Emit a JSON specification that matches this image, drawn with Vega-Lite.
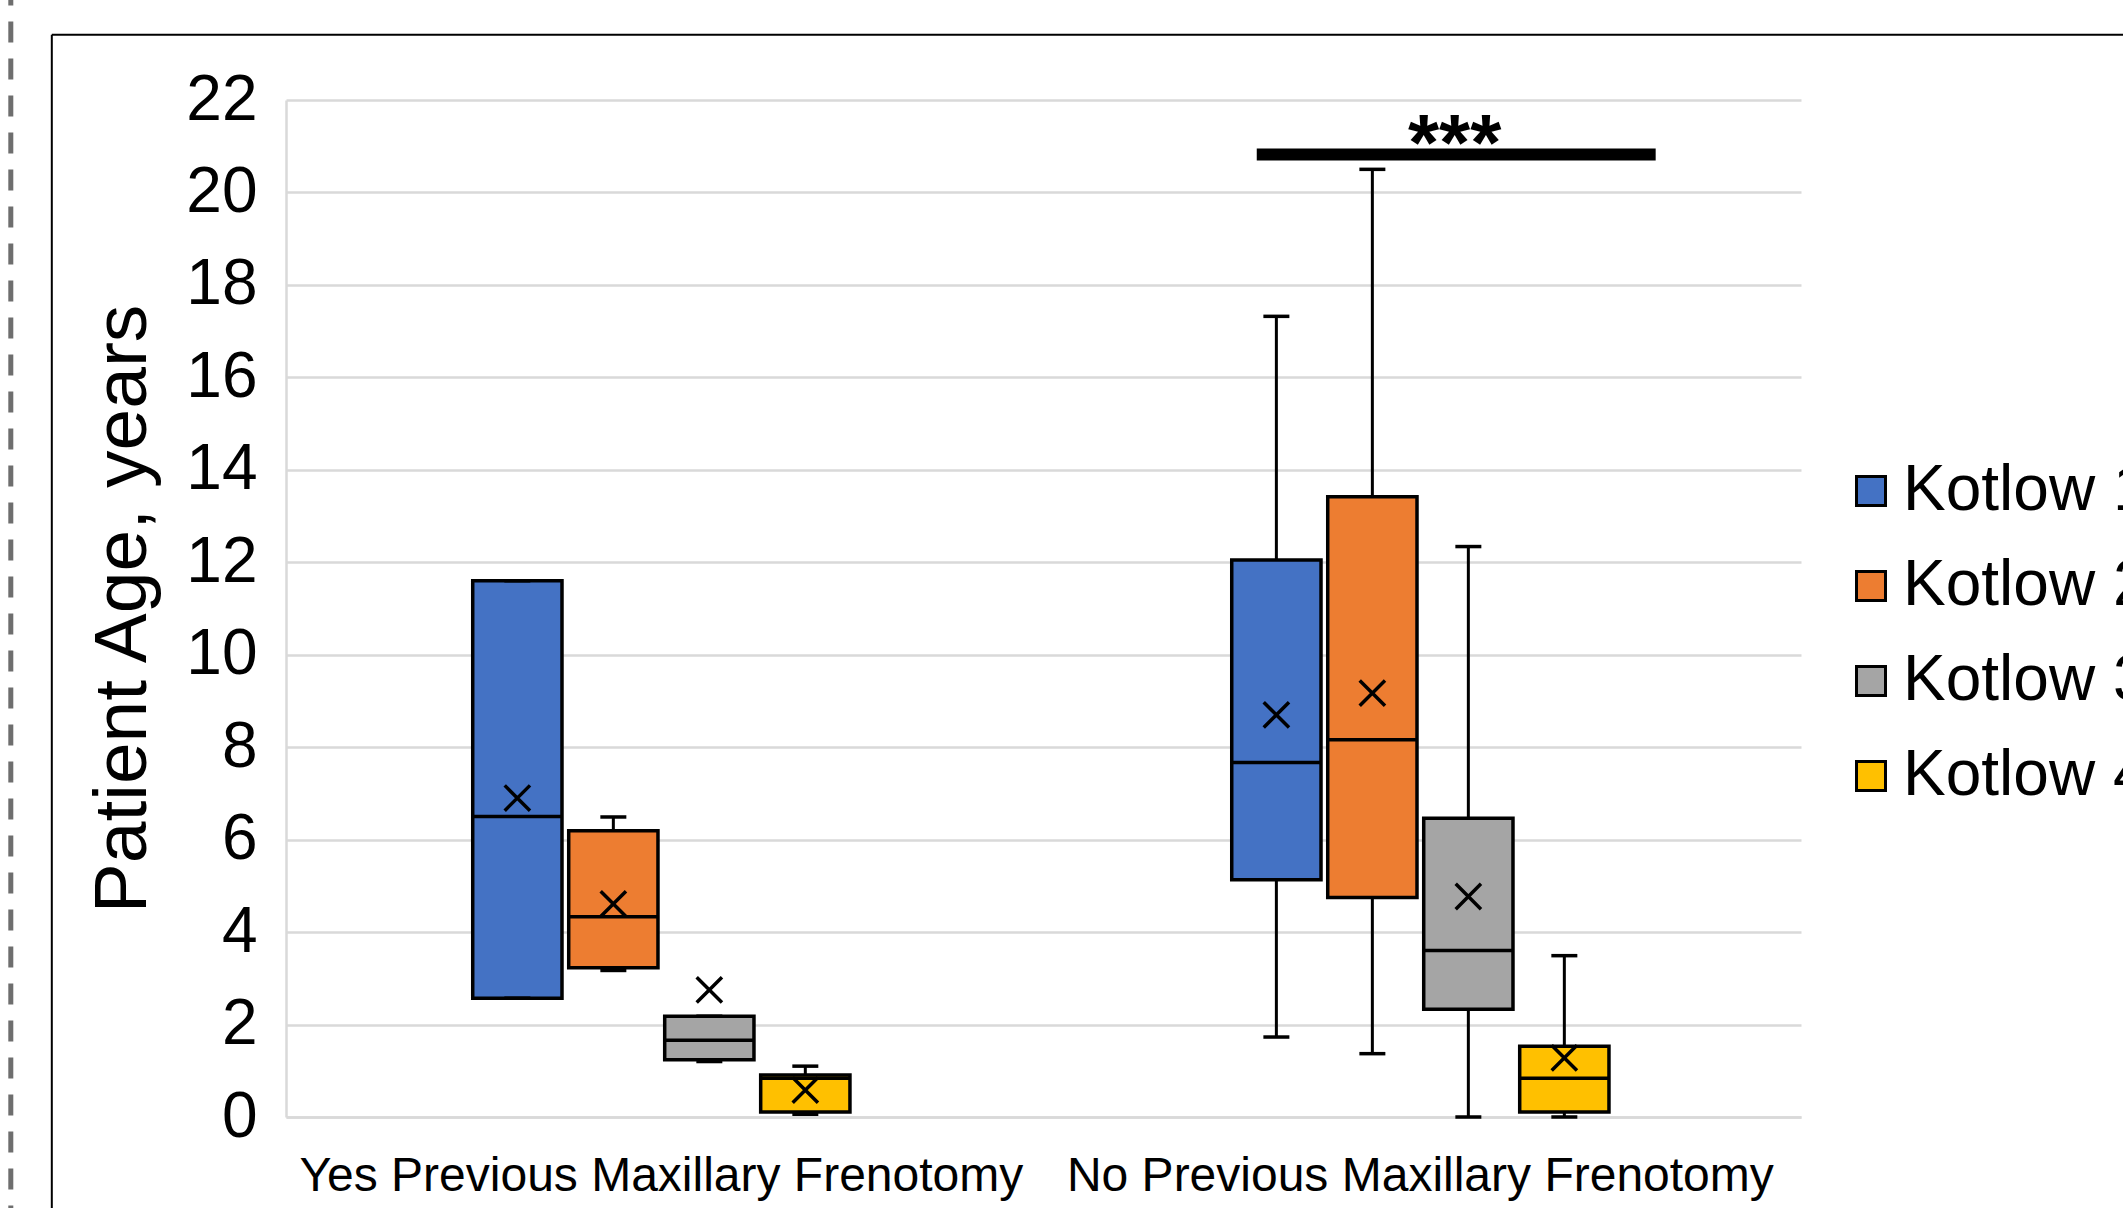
{
  "$schema": "https://vega.github.io/schema/vega-lite/v6.json",
  "width": 1515,
  "height": 1017,
  "autosize": {"type": "none"},
  "padding": {"left": 286, "top": 100, "right": 322, "bottom": 91},
  "background": "white",
  "config": {
    "font": "Liberation Sans",
    "view": {"stroke": null},
    "axis": {"labelColor": "black", "titleColor": "black", "labelFont": "Liberation Sans", "titleFont": "Liberation Sans"},
    "axisX": {"title": null, "labelFontSize": 48, "labelAngle": 0, "ticks": false, "tickSize": 0, "labelPadding": 35, "domain": true, "domainColor": "#D9D9D9", "domainWidth": 2.5, "grid": false, "labelBaseline": "top", "labelLimit": 0},
    "axisY": {"titleFontSize": 75, "titleFontWeight": "normal", "titlePadding": 24, "labelFontSize": 64, "ticks": false, "tickSize": 0, "labelPadding": 29, "domain": true, "domainColor": "#D9D9D9", "domainWidth": 2.5, "grid": true, "gridColor": "#D9D9D9", "gridWidth": 2.5},
    "legend": {"labelFont": "Liberation Sans", "labelColor": "black"}
  },
  "datasets": {
    "stats": [
      {"group": "Yes Previous Maxillary Frenotomy", "kotlow": "Kotlow 1", "min": 2.57, "q1": 2.57, "median": 6.5, "q3": 11.6, "max": 11.6, "mean": 6.9},
      {"group": "Yes Previous Maxillary Frenotomy", "kotlow": "Kotlow 2", "min": 3.17, "q1": 3.23, "median": 4.33, "q3": 6.19, "max": 6.49, "mean": 4.61},
      {"group": "Yes Previous Maxillary Frenotomy", "kotlow": "Kotlow 3", "min": 1.2, "q1": 1.24, "median": 1.66, "q3": 2.18, "max": 2.18, "mean": 2.75},
      {"group": "Yes Previous Maxillary Frenotomy", "kotlow": "Kotlow 4", "min": 0.06, "q1": 0.11, "median": 0.84, "q3": 0.91, "max": 1.1, "mean": 0.58},
      {"group": "No Previous Maxillary Frenotomy", "kotlow": "Kotlow 1", "min": 1.73, "q1": 5.13, "median": 7.67, "q3": 12.05, "max": 17.32, "mean": 8.7},
      {"group": "No Previous Maxillary Frenotomy", "kotlow": "Kotlow 2", "min": 1.37, "q1": 4.75, "median": 8.16, "q3": 13.42, "max": 20.5, "mean": 9.17},
      {"group": "No Previous Maxillary Frenotomy", "kotlow": "Kotlow 3", "min": 0, "q1": 2.33, "median": 3.6, "q3": 6.46, "max": 12.34, "mean": 4.77},
      {"group": "No Previous Maxillary Frenotomy", "kotlow": "Kotlow 4", "min": 0, "q1": 0.11, "median": 0.84, "q3": 1.53, "max": 3.49, "mean": 1.28}
    ],
    "notes": [
      {"group": "No Previous Maxillary Frenotomy", "label": "***", "level": 20.82}
    ]
  },
  "layer": [
    {
      "data": {"values": [{}]},
      "mark": {"type": "rule", "color": "#6E6E6E", "strokeWidth": 5, "strokeDash": [21, 16]},
      "encoding": {
        "x": {"datum": "Yes Previous Maxillary Frenotomy", "type": "nominal", "bandPosition": -1.2245, "scale": {"domain": ["Yes Previous Maxillary Frenotomy", "No Previous Maxillary Frenotomy"], "paddingInner": 0.503, "paddingOuter": 0.2495, "align": 0.493}},
        "y": {"datum": 24.5, "type": "quantitative", "scale": {"domain": [0, 22], "nice": false}, "title": "Patient Age, years", "axis": {"title": "Patient Age, years", "values": [0, 2, 4, 6, 8, 10, 12, 14, 16, 18, 20, 22]}},
        "y2": {"datum": -3}
      }
    },
    {
      "data": {"values": [{}]},
      "mark": {"type": "rule", "color": "black", "strokeWidth": 2},
      "encoding": {
        "x": {"datum": "Yes Previous Maxillary Frenotomy", "type": "nominal", "bandPosition": -1.1158},
        "y": {"datum": 23.41, "type": "quantitative", "title": "Patient Age, years"},
        "y2": {"datum": -3}
      }
    },
    {
      "data": {"values": [{}]},
      "mark": {"type": "rule", "color": "black", "strokeWidth": 2},
      "encoding": {
        "x": {"datum": "Yes Previous Maxillary Frenotomy", "type": "nominal", "bandPosition": -1.1158},
        "x2": {"datum": "No Previous Maxillary Frenotomy", "bandPosition": 2.6},
        "y": {"datum": 23.41, "type": "quantitative", "title": "Patient Age, years"}
      }
    },
    {
      "data": {"name": "stats"},
      "mark": {"type": "rule", "color": "black", "strokeWidth": 3},
      "encoding": {
        "x": {"field": "group", "type": "nominal"},
        "xOffset": {"field": "kotlow", "type": "nominal", "scale": {"paddingInner": 0.07, "paddingOuter": 0}},
        "y": {"field": "min", "type": "quantitative", "title": "Patient Age, years"},
        "y2": {"field": "max"}
      }
    },
    {
      "data": {"name": "stats"},
      "mark": {"type": "bar", "stroke": "black", "strokeWidth": 3.5, "opacity": 1},
      "encoding": {
        "x": {"field": "group", "type": "nominal"},
        "xOffset": {"field": "kotlow", "type": "nominal"},
        "y": {"field": "q1", "type": "quantitative", "title": "Patient Age, years"},
        "y2": {"field": "q3"},
        "color": {
          "field": "kotlow", "type": "nominal",
          "scale": {"domain": ["Kotlow 1", "Kotlow 2", "Kotlow 3", "Kotlow 4"], "range": ["#4472C4", "#ED7D31", "#A5A5A5", "#FFC000"]},
          "legend": {"title": null, "orient": "none", "legendX": 1553, "legendY": 359, "symbolType": "square", "symbolSize": 841, "symbolStrokeColor": "black", "symbolStrokeWidth": 3, "symbolOpacity": 1, "labelFontSize": 64, "labelOffset": 0, "rowPadding": 31, "padding": 0, "labelLimit": 0}
        }
      }
    },
    {
      "data": {"name": "stats"},
      "mark": {"type": "tick", "color": "black", "thickness": 3.5, "size": 89, "opacity": 1},
      "encoding": {
        "x": {"field": "group", "type": "nominal"},
        "xOffset": {"field": "kotlow", "type": "nominal"},
        "y": {"field": "median", "type": "quantitative", "title": "Patient Age, years"}
      }
    },
    {
      "data": {"name": "stats"},
      "mark": {"type": "tick", "color": "black", "thickness": 3.5, "size": 26, "opacity": 1},
      "encoding": {
        "x": {"field": "group", "type": "nominal"},
        "xOffset": {"field": "kotlow", "type": "nominal"},
        "y": {"field": "min", "type": "quantitative", "title": "Patient Age, years"}
      }
    },
    {
      "data": {"name": "stats"},
      "mark": {"type": "tick", "color": "black", "thickness": 3.5, "size": 26, "opacity": 1},
      "encoding": {
        "x": {"field": "group", "type": "nominal"},
        "xOffset": {"field": "kotlow", "type": "nominal"},
        "y": {"field": "max", "type": "quantitative", "title": "Patient Age, years"}
      }
    },
    {
      "data": {"name": "stats"},
      "mark": {"type": "point", "shape": "M-1,-1L1,1M1,-1L-1,1", "size": 640, "strokeWidth": 3.5, "filled": false, "color": "black", "opacity": 1},
      "encoding": {
        "x": {"field": "group", "type": "nominal"},
        "xOffset": {"field": "kotlow", "type": "nominal"},
        "y": {"field": "mean", "type": "quantitative", "title": "Patient Age, years"}
      }
    },
    {
      "data": {"name": "notes"},
      "mark": {"type": "rule", "color": "black", "strokeWidth": 12},
      "encoding": {
        "x": {"field": "group", "type": "nominal", "bandPosition": 0.0663},
        "x2": {"field": "group", "bandPosition": 1.1238},
        "y": {"field": "level", "type": "quantitative", "title": "Patient Age, years"}
      }
    },
    {
      "data": {"name": "notes"},
      "mark": {"type": "text", "color": "black", "fontSize": 80, "fontWeight": "bold", "font": "Liberation Sans", "align": "center", "baseline": "alphabetic", "dy": 15},
      "encoding": {
        "x": {"field": "group", "type": "nominal", "bandPosition": 0.591},
        "y": {"field": "level", "type": "quantitative", "title": "Patient Age, years"},
        "text": {"field": "label"}
      }
    }
  ]
}
